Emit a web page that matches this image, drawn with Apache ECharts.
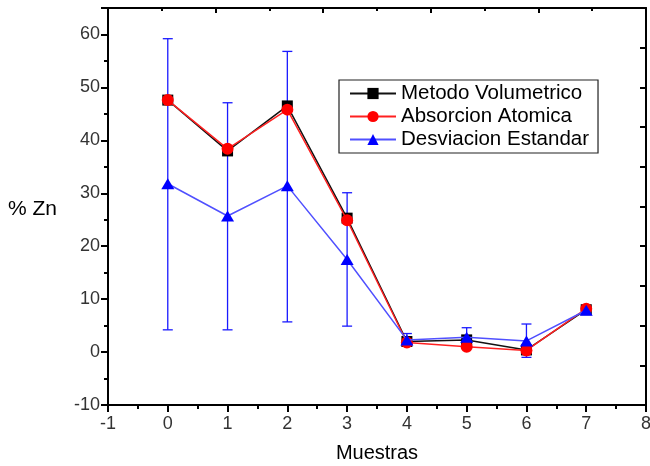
<!DOCTYPE html>
<html>
<head>
<meta charset="utf-8">
<script src="https://cdn.jsdelivr.net/npm/echarts@6/dist/echarts.min.js"></script>
<style>html,body{margin:0;padding:0;background:#fff;}#c{width:650px;height:466px;}</style>
</head>
<body>
<div id="c"></div>
<script>
// ---- data ----
const muestras = [0, 1, 2, 3, 4, 5, 6, 7];
const metodoVolumetrico = [47.6, 38.0, 46.5, 25.3, 2.0, 2.3, 0.4, 8.0];
const absorcionAtomica = [47.6, 38.4, 45.8, 24.9, 1.8, 1.0, 0.3, 8.2];
const desviacionEstandar = [31.8, 25.7, 31.4, 17.5, 2.3, 2.8, 2.1, 7.9];
const errorLow = [4.2, 4.2, 5.7, 4.9, 1.1, 1.0, -1.0, 7.4];
const errorHigh = [59.2, 47.1, 56.8, 30.1, 3.5, 4.6, 5.3, 8.4];
const seriesNames = ['Metodo Volumetrico', 'Absorcion Atomica', 'Desviacion Estandar'];
const xAxisTitle = 'Muestras';
const yAxisTitle = '% Zn';

const FONT = 'Liberation Sans, Arial, sans-serif';
const pairs = arr => muestras.map((x, i) => [x, arr[i]]);

const chart = echarts.init(document.getElementById('c'), null, {renderer: 'canvas'});
const axisLine = {show: true, onZero: false, lineStyle: {color: '#000', width: 2}};

chart.setOption({
  animation: false,
  backgroundColor: '#fff',
  grid: {left: 108, right: 4, top: 8, bottom: 61, containLabel: false, outerBoundsMode: 'none'},
  graphic: [{
    type: 'text', left: 8, top: 199,
    style: {text: yAxisTitle, font: '21px ' + FONT, fill: '#000'}
  }],
  legend: {
    orient: 'vertical', left: 339, top: 80,
    data: seriesNames,
    backgroundColor: '#fff', borderColor: '#222', borderWidth: 1.2,
    padding: [3, 9, 3, 10], itemGap: 2, itemWidth: 46, itemHeight: 14,
    textStyle: {fontSize: 20.5, fontFamily: FONT, color: '#000'}
  },
  xAxis: [{
    type: 'value', min: -1, max: 8, interval: 1, position: 'bottom',
    name: xAxisTitle, nameLocation: 'middle', nameGap: 38,
    nameTextStyle: {fontSize: 20, fontFamily: FONT, color: '#000'},
    axisLine: axisLine,
    axisTick: {show: true, inside: false, length: 7, lineStyle: {color: '#000', width: 2}},
    minorTick: {show: true, splitNumber: 2, length: 4, lineStyle: {color: '#000', width: 2}},
    axisLabel: {fontSize: 18, fontFamily: FONT, color: '#333', margin: 10},
    splitLine: {show: false}
  }, {
    type: 'value', min: 0, max: 10, interval: 2, position: 'top',
    axisLine: axisLine,
    axisTick: {show: true, inside: true, length: 5, lineStyle: {color: '#000', width: 2}},
    minorTick: {show: true, splitNumber: 2, length: 3, lineStyle: {color: '#000', width: 2}},
    axisLabel: {show: false}, splitLine: {show: false}
  }],
  yAxis: [{
    type: 'value', min: -10, max: 65, interval: 10, position: 'left',
    axisLine: axisLine,
    axisTick: {show: true, inside: false, length: 7, lineStyle: {color: '#000', width: 2}},
    minorTick: {show: true, splitNumber: 2, length: 4, lineStyle: {color: '#000', width: 2}},
    axisLabel: {fontSize: 18, fontFamily: FONT, color: '#333', margin: 8, showMaxLabel: false,
      formatter: v => (v > 60 ? '' : String(v))},
    splitLine: {show: false}
  }, {
    type: 'value', min: 0, max: 10, interval: 1, position: 'right',
    axisLine: axisLine,
    axisTick: {show: true, inside: true, length: 6, lineStyle: {color: '#000', width: 2}},
    axisLabel: {show: false}, splitLine: {show: false}
  }],
  series: [{
    type: 'custom', name: 'errores', xAxisIndex: 0, yAxisIndex: 0, z: 1,
    encode: {x: 0, y: [1, 2]},
    data: muestras.map((x, i) => [x, errorLow[i], errorHigh[i]]),
    renderItem: function (params, api) {
      const lo = api.coord([api.value(0), api.value(1)]);
      const hi = api.coord([api.value(0), api.value(2)]);
      const hw = 5;
      const style = {stroke: '#1a1aff', lineWidth: 1.3};
      return {type: 'group', children: [
        {type: 'line', shape: {x1: lo[0], y1: lo[1], x2: hi[0], y2: hi[1]}, style: style},
        {type: 'line', shape: {x1: hi[0] - hw, y1: hi[1], x2: hi[0] + hw, y2: hi[1]}, style: style},
        {type: 'line', shape: {x1: lo[0] - hw, y1: lo[1], x2: lo[0] + hw, y2: lo[1]}, style: style}
      ]};
    }
  }, {
    type: 'line', name: seriesNames[0], data: pairs(metodoVolumetrico), z: 2,
    symbol: 'rect', symbolSize: 11, color: '#000',
    itemStyle: {color: '#000'}, lineStyle: {color: '#111', width: 1.5}
  }, {
    type: 'line', name: seriesNames[1], data: pairs(absorcionAtomica), z: 3,
    symbol: 'circle', symbolSize: 12, color: '#ff0000',
    itemStyle: {color: '#ff0000'}, lineStyle: {color: '#ff2020', width: 1.5}
  }, {
    type: 'line', name: seriesNames[2], data: pairs(desviacionEstandar), z: 4,
    symbol: 'triangle', symbolSize: [13, 11], color: '#0000ff',
    itemStyle: {color: '#0000ff'}, lineStyle: {color: '#5050ff', width: 1.5}
  }]
});
</script>
</body>
</html>
